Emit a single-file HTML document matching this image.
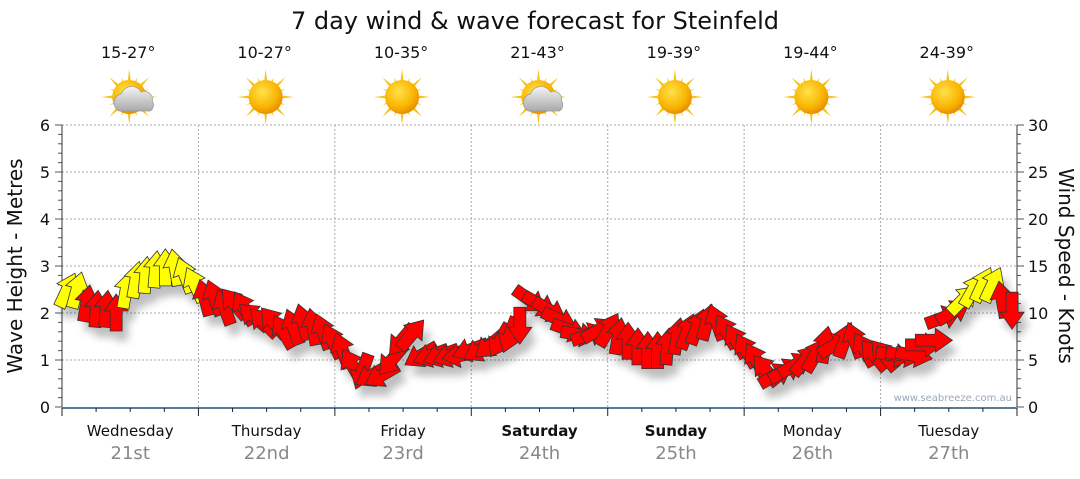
<!DOCTYPE html>
<html><head><meta charset="utf-8">
<style>
html,body{margin:0;padding:0;background:#fff;}
body{width:1080px;height:475px;overflow:hidden;font-family:"DejaVu Sans","Liberation Sans",sans-serif;}
</style></head>
<body>
<svg id="chart" width="1080" height="475" viewBox="0 0 1080 475" xmlns="http://www.w3.org/2000/svg">
<defs>
<radialGradient id="sunG" cx="40%" cy="35%" r="65%"><stop offset="0" stop-color="#ffe24a"/><stop offset="0.7" stop-color="#f9b400"/><stop offset="1" stop-color="#e98f00"/></radialGradient>
<linearGradient id="cloudG" x1="0" y1="0" x2="0" y2="1"><stop offset="0" stop-color="#f4f4f4"/><stop offset="1" stop-color="#a9a9a9"/></linearGradient>
<filter id="sh" x="-50%" y="-50%" width="200%" height="200%"><feGaussianBlur stdDeviation="4"/></filter>
</defs>
<text x="535" y="29" text-anchor="middle" font-size="24" fill="#111">7 day wind &amp; wave forecast for Steinfeld</text>
<g id="grid"></g>
<g id="axes"></g>
<g id="icons"></g>
<g id="shadows" filter="url(#sh)" opacity="0.25"></g>
<g id="arrows"></g>
<text x="1012" y="401" text-anchor="end" font-size="10" fill="#9aa8b8">www.seabreeze.com.au</text>
<text transform="translate(22,266) rotate(-90)" text-anchor="middle" font-size="20" fill="#111">Wave Height - Metres</text>
<text transform="translate(1059,266) rotate(90)" text-anchor="middle" font-size="20" fill="#111">Wind Speed - Knots</text>
</svg>
<script>
const days = ["Wednesday","Thursday","Friday","Saturday","Sunday","Monday","Tuesday"];
const dates = ["21st","22nd","23rd","24th","25th","26th","27th"];
const boldDays = [false,false,false,true,true,false,false];
const temps = ["15-27°","10-27°","10-35°","21-43°","19-39°","19-44°","24-39°"];
const cloudy = [true,false,false,true,false,false,false];
const leftTicks = [0,1,2,3,4,5,6];
const rightTicks = [0,5,10,15,20,25,30];
const windKnots = [12.4,12.4,11.0,10.4,10.4,10.0,12.4,13.5,14.0,14.6,14.8,14.8,14.0,13.0,
 11.6,11.6,10.6,11.0,10.5,9.6,9.0,9.0,8.0,8.5,9.0,8.5,8.0,7.0,
 6.0,4.4,3.8,3.4,3.4,5.0,7.1,7.7,5.5,5.5,5.5,5.5,5.5,6.1,
 6.1,6.6,7.1,7.7,8.7,11.4,10.9,10.3,9.3,8.2,7.7,7.7,8.2,8.2,
 7.5,7.0,6.4,6.0,6.0,6.4,7.5,8.0,8.5,9.0,9.0,8.0,7.0,6.0,
 5.0,3.9,3.4,3.9,4.5,5.0,5.5,6.6,6.6,7.1,7.1,6.1,5.5,5.5,
 5.5,5.5,5.5,6.6,7.1,9.5,10.1,11.4,12.4,13.0,13.0,11.4,10.3];
const windDir = [25,15,10,5,5,0,10,10,5,5,0,-10,-20,-25,
 -15,-20,-20,-40,-30,-50,-45,-40,-30,-20,-15,-10,-20,-25,
 -20,-30,-160,-120,-120,-140,-140,40,-120,-110,-110,-110,-100,-110,
 -120,-130,-150,-160,180,125,120,120,115,110,100,70,60,30,
 10,0,0,0,0,5,10,20,20,15,-20,-30,-30,-30,
 -30,-40,60,60,60,40,30,10,60,20,-20,-30,-40,-40,
 100,100,100,90,90,70,60,45,30,25,25,-10,180];
const windColor = ["Y","Y","R","R","R","R","Y","Y","Y","Y","Y","Y","Y","Y",
 "R","R","R","R","R","R","R","R","R","R","R","R","R","R",
 "R","R","R","R","R","R","R","R","R","R","R","R","R","R",
 "R","R","R","R","R","R","R","R","R","R","R","R","R","R",
 "R","R","R","R","R","R","R","R","R","R","R","R","R","R",
 "R","R","R","R","R","R","R","R","R","R","R","R","R","R",
 "R","R","R","R","R","R","R","Y","Y","Y","Y","R","R"];

const NS="http://www.w3.org/2000/svg";
const X0=62,X1=1017,Y0=407,Y1=125;
const dayW=(X1-X0)/7;
const yM=m=>Y0-(Y0-Y1)*m/6;
const yK=k=>Y0-(Y0-Y1)*k/30;
const xI=i=>X0+(i+0.5)*(X1-X0)/windKnots.length;
function mk(tag,attrs,parent){const e=document.createElementNS(NS,tag);for(const k in attrs)e.setAttribute(k,attrs[k]);parent.appendChild(e);return e;}
const grid=document.getElementById('grid'),axes=document.getElementById('axes'),icons=document.getElementById('icons'),arrows=document.getElementById('arrows'),shadows=document.getElementById('shadows');

leftTicks.forEach(m=>{
  if(m>0){const l=mk('line',{x1:X0,x2:X1,y1:yM(m),y2:yM(m),stroke:'#aaa','stroke-dasharray':'2,2','stroke-width':1},grid);
  
  }
  const t=mk('text',{x:50,y:yM(m)+6,'text-anchor':'end','font-size':16,fill:'#111'},axes);t.textContent=m;
  
  
});
rightTicks.forEach(k=>{
  const t=mk('text',{x:1028,y:yK(k)+6,'font-size':16,fill:'#111'},axes);t.textContent=k;
  
  
});
for(let i=0;i<=30;i++){const y=yM(i/5);const len=i%5==0?7:4;mk('line',{x1:X0-len,x2:X0,y1:y,y2:y,stroke:'#555'},axes);}
for(let i=0;i<=30;i++){const y=yK(i);const len=i%5==0?7:4;mk('line',{x1:X1,x2:X1+len,y1:y,y2:y,stroke:'#555'},axes);}
mk('line',{x1:X0,x2:X0,y1:Y1,y2:Y0,stroke:'#333'},axes);
mk('line',{x1:X1,x2:X1,y1:Y1,y2:Y0,stroke:'#333'},axes);
const xa=mk('line',{x1:X0,x2:X1,y1:Y0+1,y2:Y0+1,stroke:'#1d4f78','stroke-width':1.5},axes);


for(let q=0;q<=28;q++){const x=X0+q*dayW/4;mk('line',{x1:x,x2:x,y1:Y0+1,y2:Y0+(q%4==0?9:5),stroke:'#222'},axes);}

days.forEach((d,i)=>{
  const cx=X0+(i+0.5)*dayW;
  if(i>0){const l=mk('line',{x1:X0+i*dayW,x2:X0+i*dayW,y1:Y1,y2:Y0,stroke:'#aaa','stroke-dasharray':'2,2'},grid);
  
  }
  const t=mk('text',{x:cx,y:436,'text-anchor':'middle','font-size':15,fill:'#111','font-weight':boldDays[i]?'bold':'normal'},axes);t.textContent=d;
  
  
  const t2=mk('text',{x:cx,y:459,'text-anchor':'middle','font-size':18,fill:'#888'},axes);t2.textContent=dates[i];
  
  
  const t3=mk('text',{x:cx-2,y:58,'text-anchor':'middle','font-size':16,fill:'#111'},icons);t3.textContent=temps[i];
  
  
  const g=mk('g',{transform:`translate(${cx-1},97)`},icons);
  
  
  for(let r=0;r<16;r++){const a=r*22.5;const L=r%2==0?28:21;mk('polygon',{points:`-3.5,0 3.5,0 0,-${L}`,fill:'#f7c21a',transform:`rotate(${a})`},g);}
  mk('circle',{r:17,fill:'url(#sunG)'},g);
  if(cloudy[i]){mk('path',{d:'M-10,14 a9,9 0 0 1 2,-17 a11,11 0 0 1 20,-2 a8,8 0 0 1 11,9 a7,7 0 0 1 -2,10 z',fill:'url(#cloudG)',stroke:'#999','stroke-width':0.7},g);}
});

const arrowPath='M0,-19 L12,-2 L6,-2 L6,18 L-6,18 L-6,-2 L-12,-2 Z';
windKnots.forEach((k,i)=>{
  const x=xI(i),y=yK(k);
  mk('path',{d:arrowPath,fill:'#000',transform:`translate(${x+6},${y+10}) rotate(${windDir[i]})`},shadows);
  const p=mk('path',{d:arrowPath,fill:windColor[i]=='Y'?'#ffff00':'#ff0000',stroke:'#333','stroke-width':0.8,transform:`translate(${x},${y}) rotate(${windDir[i]})`},arrows);
  
  
});
</script>
</body></html>
